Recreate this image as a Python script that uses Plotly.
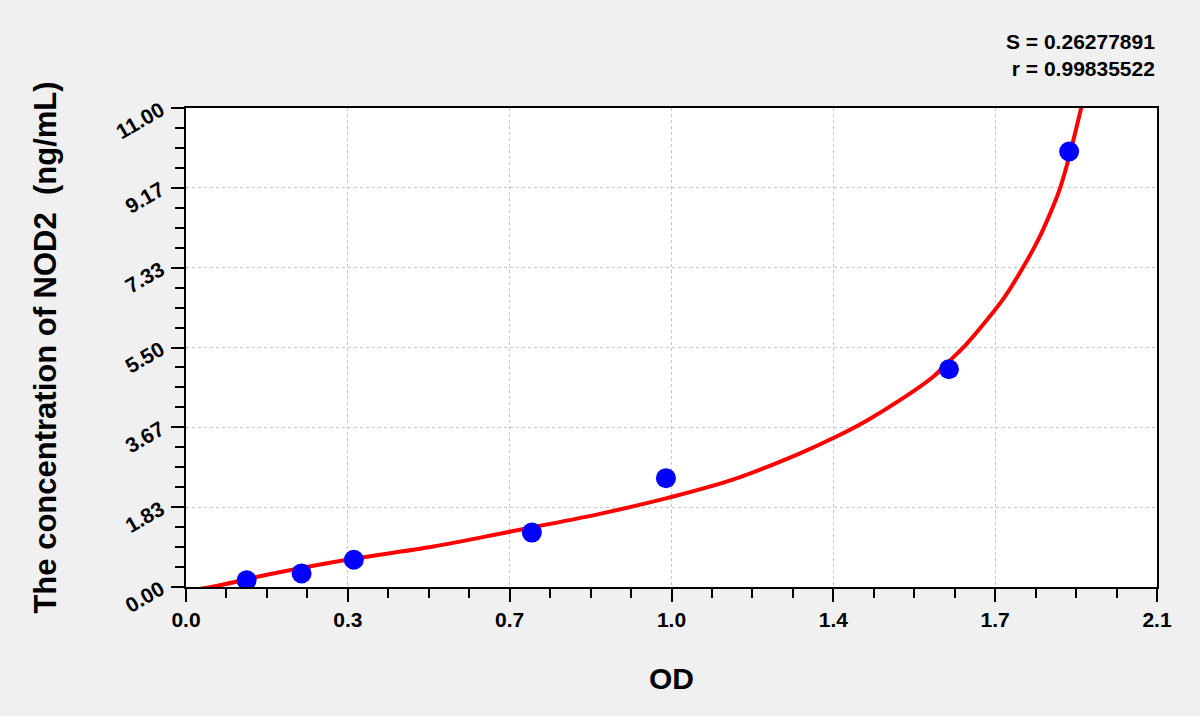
import plotly.graph_objects as go

# standards
od_std = [0.131, 0.250, 0.363, 0.748, 1.038, 1.650, 1.910]
conc_std = [0.156, 0.312, 0.625, 1.25, 2.5, 5.0, 10.0]

# fitted curve
od_fit = [0.02, 0.06, 0.175, 0.345, 0.535, 0.70, 0.895, 1.040, 1.184, 1.328,
          1.400, 1.472, 1.544, 1.616, 1.652, 1.688, 1.732, 1.771, 1.807,
          1.843, 1.869, 1.890, 1.908, 1.940]
conc_fit = [-0.06, 0.01, 0.28, 0.62, 0.93, 1.27, 1.68, 2.04, 2.47, 3.07,
            3.42, 3.82, 4.29, 4.83, 5.20, 5.58, 6.13, 6.67, 7.28,
            7.97, 8.58, 9.15, 9.80, 11.18]

x_ticks = [0, 0.35, 0.7, 1.05, 1.4, 1.75, 2.1]
x_labels = ["0.0", "0.3", "0.7", "1.0", "1.4", "1.7", "2.1"]
y_ticks = [0, 11 / 6, 22 / 6, 33 / 6, 44 / 6, 55 / 6, 11]
y_labels = ["0.00", "1.83", "3.67", "5.50", "7.33", "9.17", "11.00"]

fit_stats = ["S = 0.26277891", "r = 0.99835522"]

FONT = "Liberation Sans, Arial, sans-serif"

fig = go.Figure()
fig.add_trace(go.Scatter(
    x=od_fit, y=conc_fit, mode="lines", line_shape="spline",
    line=dict(color="#ff0000", width=4, smoothing=1.0), showlegend=False,
))
fig.add_trace(go.Scatter(
    x=od_std, y=conc_std, mode="markers",
    marker=dict(color="#0000ff", size=20), showlegend=False,
))

axis_common = dict(
    showline=True, linecolor="black", linewidth=2, mirror=True,
    ticks="outside", ticklen=13, tickwidth=2, tickcolor="black",
    showgrid=True, gridcolor="#c4c4c4", griddash="dot", gridwidth=1,
    zeroline=False,
    tickfont=dict(family=FONT, size=21, color="black", weight="bold"),
)

fig.update_xaxes(
    range=[0, 2.1], tickmode="array", tickvals=x_ticks, ticktext=x_labels,
    minor=dict(tickmode="linear", tick0=0, dtick=0.0875, ticklen=9,
               tickwidth=2, tickcolor="black", ticks="outside", showgrid=False),
    title=dict(text="OD", standoff=38,
               font=dict(family=FONT, size=30, color="black", weight="bold")),
    **axis_common,
)
fig.update_yaxes(
    range=[0, 11], tickmode="array", tickvals=y_ticks, ticktext=y_labels,
    tickangle=-30, ticklabelstandoff=6,
    minor=dict(tickmode="linear", tick0=0, dtick=11 / 24, ticklen=9,
               tickwidth=2, tickcolor="black", ticks="outside", showgrid=False),
    title=dict(text="The concentration of NOD2  (ng/mL)", standoff=46,
               font=dict(family=FONT, size=31, color="black", weight="bold")),
    **axis_common,
)

fig.add_annotation(
    x=1, y=1, xref="paper", yref="paper", xanchor="right", yanchor="bottom",
    yshift=26, showarrow=False, align="right",
    text="<br>".join(fit_stats),
    font=dict(family=FONT, size=21, color="black", weight="bold"),
)

fig.update_layout(
    width=1200, height=716,
    paper_bgcolor="#f0f0f0", plot_bgcolor="white",
    margin=dict(l=186, r=43, t=108, b=129),
)

fig.write_html("out.html", config={"displayModeBar": False},
               post_script="document.body.style.margin='0';")
